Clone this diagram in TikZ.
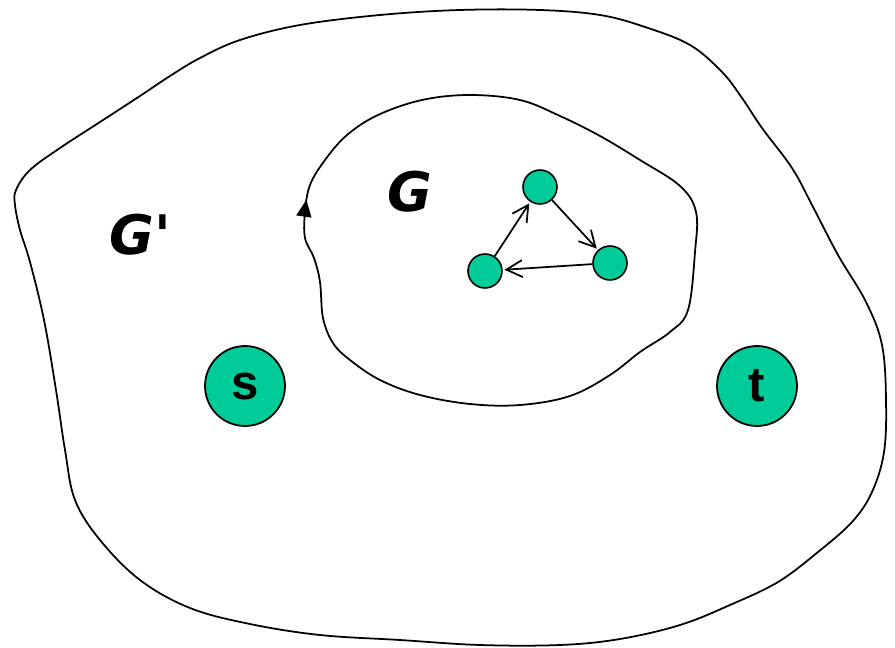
\documentclass[tikz,border=0pt]{standalone}
\usepackage{fontspec}
\setmainfont{Liberation Sans}
\newfontfamily\handfont{DejaVu Sans}
\usetikzlibrary{arrows.meta,decorations.markings}
\definecolor{nodegreen}{RGB}{0,204,153}
\begin{document}
\begin{tikzpicture}[x=0.02cm,y=-0.02cm,
  blob/.style={line width=1pt, line join=round},
  bignode/.style={circle, draw, line width=1pt, fill=nodegreen, minimum size=1.6cm,
                  inner sep=0pt, font=\fontsize{28}{30}\selectfont\bfseries},
  smallnode/.style={circle, draw, line width=0.9pt, fill=nodegreen, minimum size=0.68cm,
                    inner sep=0pt},
  ar/.style={-{Straight Barb[length=3.2mm,width=3.4mm]}, line width=1pt, shorten >=1pt},
  glabel/.style={font=\handfont\fontsize{31}{33}\selectfont\bfseries\itshape}
]
\useasboundingbox (0,0) rectangle (895,648);

% outer region G'
\draw[blob] plot[smooth cycle, tension=0.6] coordinates {
  (16,190) (30,170) (60,148) (100,122) (140,96) (170,76) (200,58) (240,40)
  (300,25) (380,15) (460,10) (540,10) (600,15) (645,27) (690,45) (722,72)
  (742,98) (762,128) (792,168) (812,205) (838,255) (866,302) (882,345)
  (886,400) (884,452) (872,492) (852,522) (818,552) (778,582) (730,605)
  (680,625) (620,639) (560,645) (480,645) (400,640) (320,635) (250,624)
  (190,608) (140,580) (100,540) (75,500) (65,450) (56,390) (44,320)
  (30,262) (20,230) (15,205)};

% inner region G
\draw[blob, decoration={markings, mark=at position 0.011 with
    {\arrow{Triangle[length=3.4mm,width=3mm]}}}, postaction={decorate}]
  plot[smooth cycle, tension=0.6] coordinates {
  (305,238) (305,212) (310,185) (325,160) (347,135) (378,115) (422,100)
  (470,95) (520,100) (560,116) (600,136) (640,160) (680,186) (696,212)
  (695,252) (688,310) (670,332) (640,352) (610,375) (570,396) (520,405)
  (470,404) (420,395) (380,380) (350,360) (333,343) (323,318) (320,282)
  (314,258)};

\node[glabel] (gprime) at (140,235) {G'};
\node[glabel] (g) at (410,192) {G};

\node[bignode] (s) at (245,386) {s};
\node[bignode] (t) at (757,386) {t};

\node[smallnode] (a) at (540,187) {};
\node[smallnode] (b) at (610,263) {};
\node[smallnode] (c) at (485,271) {};

\draw[ar] (a) -- (b);
\draw[ar] (b) -- (c);
\draw[ar] (c) -- (a);
\end{tikzpicture}
\end{document}
